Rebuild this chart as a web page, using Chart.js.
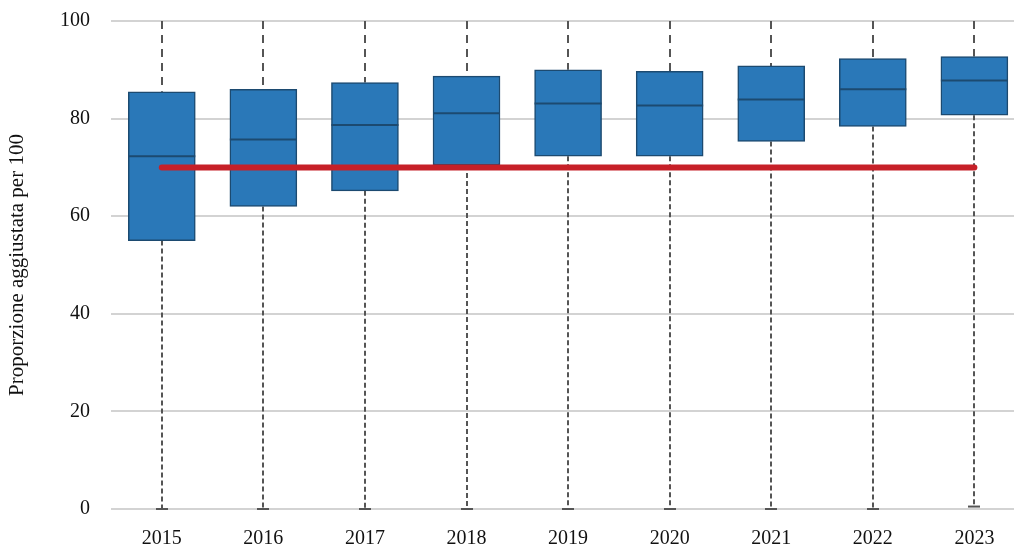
<html><head>
<meta charset="UTF-8">
<title>Proporzione aggiustata per 100</title>
<script src="https://cdn.jsdelivr.net/npm/chart.js"></script>
<style>
body { margin: 0; background: #fff; overflow: hidden; }
.wrap { width: 1014px; height: 548px; position: relative; }
</style>
</head>
<body>
<div class="wrap"><canvas id="boxChart"></canvas></div>
<script>
const years = [2015, 2016, 2017, 2018, 2019, 2020, 2021, 2022, 2023];
const whiskerLow = [0, 0, 0, 0, 0, 0, 0, 0, 0.5];
const q1 = [55.0, 62.0, 65.2, 70.5, 72.3, 72.3, 75.3, 78.4, 80.7];
const medians = [72.3, 75.7, 78.7, 81.1, 83.1, 82.7, 83.9, 86.0, 87.8];
const q3 = [85.5, 86.0, 87.4, 88.7, 90.0, 89.7, 90.8, 92.3, 92.7];
const whiskerHigh = [100, 100, 100, 100, 100, 100, 100, 100, 100];
const target = [70, 70, 70, 70, 70, 70, 70, 70, 70];
const yTicks = [0, 20, 40, 60, 80, 100];

const FONT = { family: "'Liberation Serif', serif", size: 20 };

function seg(ctx, x1, y1, x2, y2) {
  ctx.beginPath();
  ctx.moveTo(x1, y1);
  ctx.lineTo(x2, y2);
  ctx.stroke();
}

// whiskers go under the boxes, medians on top of them
const boxExtras = {
  id: 'boxExtras',
  beforeDatasetsDraw(chart) {
    const { ctx, scales: { x, y } } = chart;
    ctx.save();
    ctx.strokeStyle = '#555555';
    ctx.lineWidth = 2;
    years.forEach((yr, i) => {
      const px = Math.round(x.getPixelForValue(yr));
      ctx.setLineDash([8, 6]);
      seg(ctx, px, y.getPixelForValue(whiskerHigh[i]), px, y.getPixelForValue(q3[i]));
      ctx.setLineDash([5, 3]);
      const lowPx = y.getPixelForValue(whiskerLow[i]);
      seg(ctx, px, y.getPixelForValue(q1[i]), px, lowPx);
      ctx.setLineDash([]);
      seg(ctx, px - 6, lowPx, px + 6, lowPx);
    });
    ctx.restore();
  },
  afterDatasetDraw(chart, args) {
    if (args.index !== 1) return;
    const { ctx, scales: { y } } = chart;
    ctx.save();
    ctx.strokeStyle = '#1c4a70';
    ctx.lineWidth = 2;
    args.meta.data.forEach((bar, i) => {
      const py = y.getPixelForValue(medians[i]);
      seg(ctx, bar.x - bar.width / 2, py, bar.x + bar.width / 2, py);
    });
    ctx.restore();
  }
};

new Chart(document.getElementById('boxChart'), {
  type: 'bar',
  data: {
    datasets: [{
      type: 'line',
      data: years.map((yr, i) => ({ x: yr, y: target[i] })),
      borderColor: '#c62028',
      borderWidth: 6,
      borderCapStyle: 'round',
      pointRadius: 0,
      order: 0
    }, {
      type: 'bar',
      data: years.map((yr, i) => ({ x: yr, y: [q1[i], q3[i]] })),
      backgroundColor: '#2a78b8',
      borderColor: '#1c4a70',
      borderWidth: 1.5,
      borderSkipped: false,
      barThickness: 67,
      order: 1
    }]
  },
  options: {
    responsive: true,
    maintainAspectRatio: false,
    animation: false,
    layout: { padding: { top: 21, right: 0, bottom: 0, left: 0 } },
    plugins: { legend: { display: false }, tooltip: { enabled: false } },
    scales: {
      x: {
        type: 'linear',
        offset: false,
        min: 2014.5,
        max: 2023.39,
        afterBuildTicks: s => { s.ticks = years.map(v => ({ value: v })); },
        afterFit: s => { s.height = 39; s.paddingLeft = 0; s.paddingRight = 0; },
        grid: { display: false },
        border: { display: false },
        ticks: { color: '#111', font: FONT, padding: 10, maxRotation: 0, callback: v => String(v) }
      },
      y: {
        min: 0,
        max: 100,
        afterBuildTicks: s => { s.ticks = yTicks.map(v => ({ value: v })); },
        afterFit: s => { s.width = 111; s.paddingTop = 0; s.paddingBottom = 0; },
        grid: { color: '#d3d3d3', lineWidth: 2, drawTicks: false },
        border: { display: false },
        ticks: { color: '#111', font: FONT, padding: 21 },
        title: {
          display: true,
          text: 'Proporzione aggiustata per 100',
          color: '#111',
          font: { family: "'Liberation Serif', serif", size: 21 },
          padding: { top: 5, bottom: 0 }
        }
      }
    }
  },
  plugins: [boxExtras]
});
</script>
</body></html>
